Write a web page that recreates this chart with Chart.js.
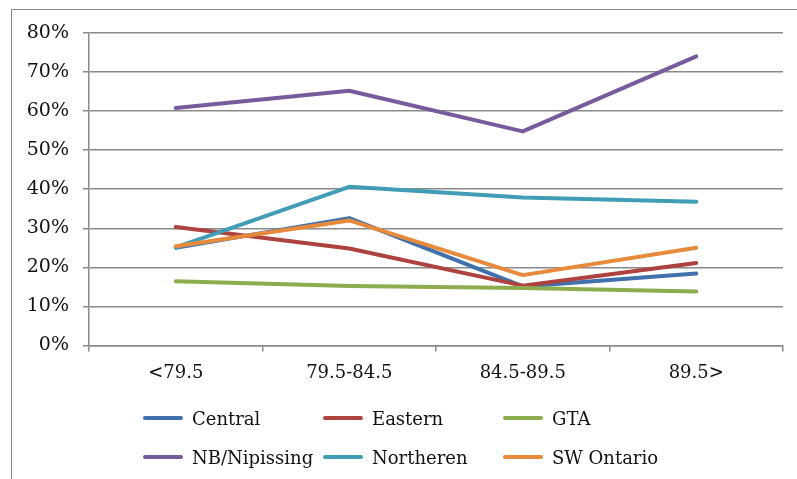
<!DOCTYPE html>
<html>
<head>
<meta charset="utf-8">
<script src="https://cdn.jsdelivr.net/npm/chart.js@4.4.1/dist/chart.umd.min.js"></script>
<style>
    body { margin: 0; background: #fff; overflow: hidden; }
    #frame {
        position: absolute; left: 11px; top: 9px; width: 900px; height: 600px;
        border-left: 1.5px solid #8a8a8a; border-top: 1.5px solid #8a8a8a;
    }
    #wrap { position: absolute; left: 0; top: 0; width: 797px; height: 479px; }
    #legend {
        position: absolute; left: 143px; top: 405px;
        display: grid; grid-template-columns: 180px 180px 180px; row-gap: 13px;
        font-family: "DejaVu Serif", serif; font-size: 18px; color: #111;
    }
    .item { display: flex; align-items: center; height: 26px; white-space: nowrap; }
    .swatch { width: 40px; height: 4px; border-radius: 2px; margin-right: 9px; }
</style>
</head>
<body>
<div id="frame"></div>
<div id="wrap"><canvas id="lineChart" width="797" height="479"></canvas></div>
<div id="legend"></div>
<script>
const categories = ["<79.5", "79.5-84.5", "84.5-89.5", "89.5>"];
const regions = ["Central", "Eastern", "GTA", "NB/Nipissing", "Northeren", "SW Ontario"];

// percent values per region
const central = [25.0, 32.6, 15.1, 18.4];
const eastern = [30.3, 24.8, 15.3, 21.1];
const gta = [16.4, 15.2, 14.7, 13.8];
const nbNipissing = [60.8, 65.2, 54.8, 74.0];
const northeren = [25.1, 40.6, 37.9, 36.8];
const swOntario = [25.4, 32.0, 18.0, 25.0];

const colors = ["#4071ad", "#ad423f", "#8cad4f", "#775b9c", "#409db5", "#e88a3c"];
const seriesList = [central, eastern, gta, nbNipissing, northeren, swOntario];

const fontFamily = '"DejaVu Serif", serif';

const datasets = regions.map((name, i) => ({
    label: name,
    data: seriesList[i],
    borderColor: colors[i],
    backgroundColor: colors[i],
    borderWidth: 4,
    pointRadius: 0,
    tension: 0,
    borderCapStyle: "round",
    borderJoinStyle: "round",
    order: regions.length - i, // later series on top, like the original
}));

new Chart(document.getElementById("lineChart"), {
    type: "line",
    data: { labels: categories, datasets },
    options: {
        responsive: false,
        animation: false,
        layout: { padding: { left: 0, top: 33, right: 14, bottom: 84 } },
        plugins: { legend: { display: false }, tooltip: { enabled: false } },
        scales: {
            x: {
                offset: true,
                grid: {
                    offset: true,
                    drawOnChartArea: false,
                    drawTicks: true,
                    tickLength: 6,
                    color: "#8a8a8a",
                    lineWidth: 1.5,
                },
                border: { display: true, color: "#8a8a8a", width: 1.5 },
                ticks: { color: "#111", padding: 11, font: { family: fontFamily, size: 18 } },
            },
            y: {
                min: 0,
                max: 80,
                afterFit: scale => { scale.width = 89; },
                grid: { color: "#8a8a8a", lineWidth: 1.5, tickLength: 6 },
                border: { display: true, color: "#8a8a8a", width: 1.5 },
                ticks: {
                    stepSize: 10,
                    color: "#111",
                    padding: 14,
                    font: { family: fontFamily, size: 19 },
                    callback: v => v + "%",
                },
            },
        },
    },
});

// legend in three fixed columns, as in the source
const legendEl = document.getElementById("legend");
regions.forEach((name, i) => {
    const item = document.createElement("div");
    item.className = "item";
    item.innerHTML = '<span class="swatch" style="background:' + colors[i] + '"></span>' + name;
    legendEl.appendChild(item);
});
</script>
</body>
</html>
